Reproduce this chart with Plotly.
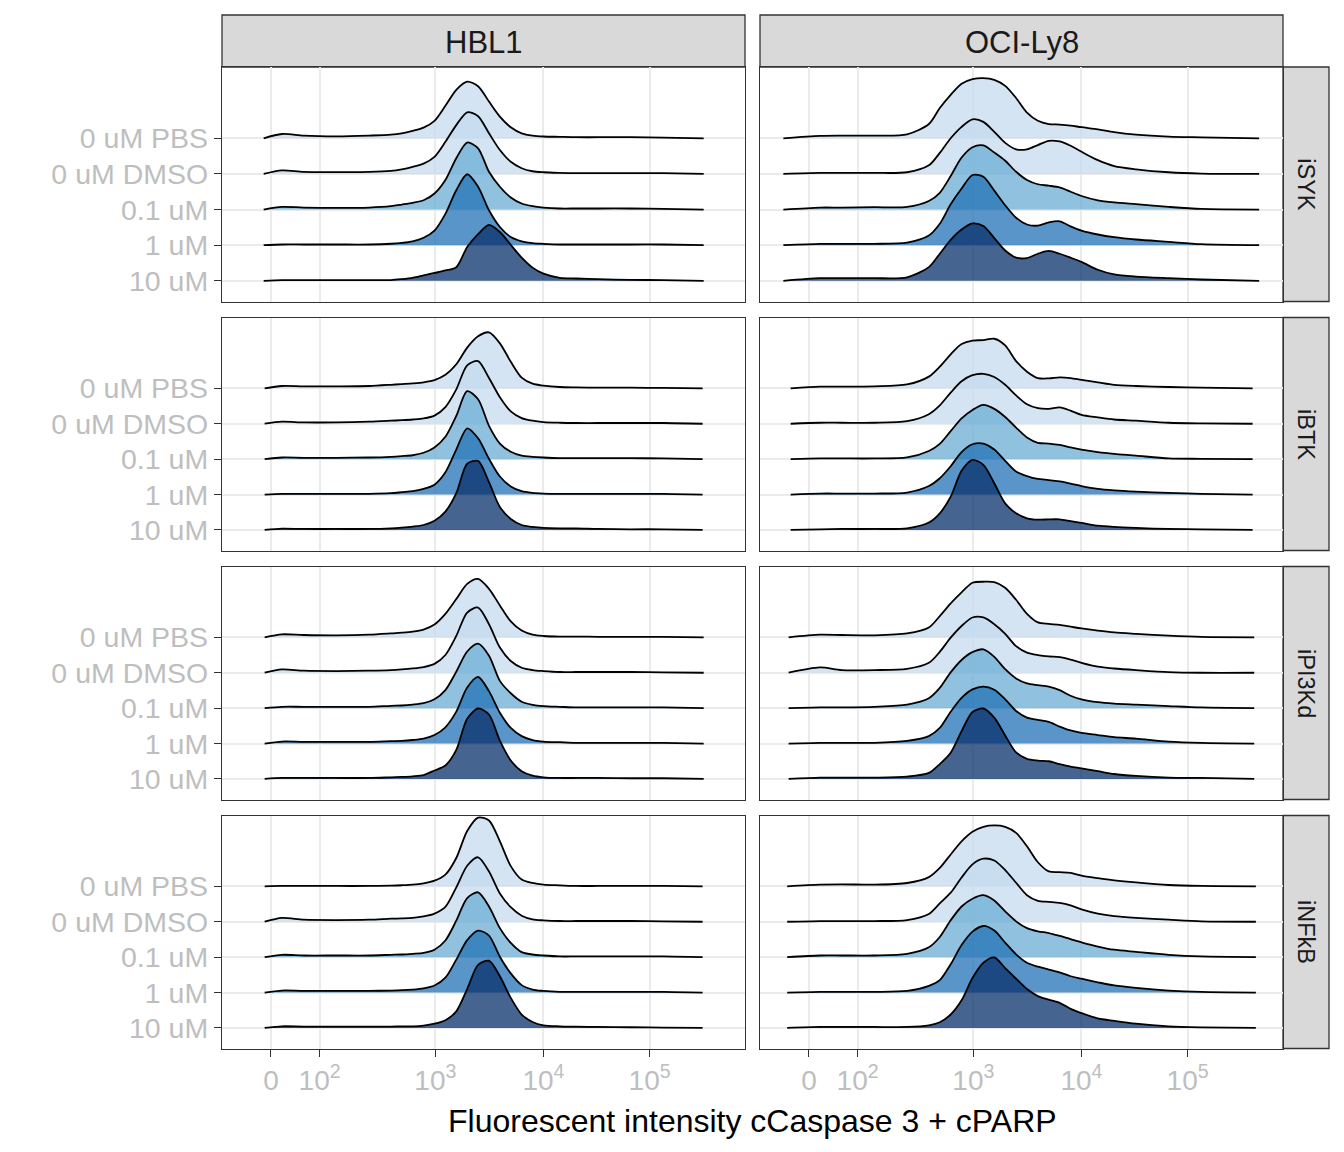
import plotly.graph_objects as go
from plotly.subplots import make_subplots

# the page body adds an 8px margin, so the figure is drawn 16px smaller than the window
PAGE_PAD = 8
W, H = 1344 - 2 * PAGE_PAD, 1152 - 2 * PAGE_PAD

cell_lines = ["HBL1", "OCI-Ly8"]
inhibitors = ["iSYK", "iBTK", "iPI3Kd", "iNFkB"]
doses = ["0 uM PBS", "0 uM DMSO", "0.1 uM", "1 uM", "10 uM"]
dose_fill = ["rgba(198,219,239,0.75)", "rgba(198,219,239,0.75)", "rgba(107,174,214,0.75)",
             "rgba(33,113,181,0.75)", "rgba(8,48,107,0.75)"]

# axis breaks on the biexponential scale
tick_pos = [0, 0.446, 1.508, 2.50, 3.474]
tick_txt = ["0", "10<sup>2</sup>", "10<sup>3</sup>", "10<sup>4</sup>", "10<sup>5</sup>"]

# positions (transformed scale) where the ridge heights were read
x_grid = [0.1, 0.3, 0.6, 0.9, 1.1, 1.2, 1.3, 1.4, 1.5, 1.6, 1.7, 1.8, 1.9, 2.0,
          2.1, 2.2, 2.3, 2.4, 2.5, 2.65, 2.8, 3.0, 3.3, 3.6]

# data range of every panel (density starts / ends here), by inhibitor
hbl1_from = [-0.067, -0.058, -0.058, -0.058]
hbl1_to = [3.97, 3.96, 3.97, 3.96]
ocily8_from = [-0.235, -0.168, -0.187, -0.2]
ocily8_to = [4.13, 4.07, 4.085, 4.10]

# ridge heights, rows: 0 uM PBS, 0 uM DMSO, 0.1 uM, 1 uM, 10 uM
hbl1_isyk = [
    [0.12, 0.075, 0.056, 0.075, 0.10, 0.14, 0.21, 0.30, 0.49, 0.91, 1.36, 1.59, 1.46, 1.03, 0.61, 0.31, 0.14, 0.075, 0.05, 0.04, 0.03, 0.03, 0.03, 0.02],
    [0.10, 0.056, 0.05, 0.056, 0.085, 0.13, 0.20, 0.29, 0.48, 0.90, 1.37, 1.73, 1.62, 1.14, 0.67, 0.34, 0.16, 0.075, 0.047, 0.03, 0.02, 0.02, 0.02, 0.02],
    [0.075, 0.056, 0.047, 0.056, 0.094, 0.14, 0.19, 0.26, 0.45, 0.83, 1.44, 1.88, 1.72, 1.06, 0.64, 0.34, 0.17, 0.094, 0.056, 0.03, 0.03, 0.03, 0.03, 0.02],
    [0.02, 0.02, 0.02, 0.02, 0.04, 0.066, 0.11, 0.21, 0.41, 0.88, 1.54, 1.99, 1.64, 0.98, 0.51, 0.23, 0.11, 0.056, 0.038, 0.02, 0.02, 0.02, 0.02, 0.02],
    [0.02, 0.02, 0.02, 0.02, 0.02, 0.047, 0.085, 0.15, 0.22, 0.29, 0.38, 0.95, 1.31, 1.57, 1.37, 1.01, 0.65, 0.37, 0.2, 0.085, 0.066, 0.047, 0.028, 0.02],
]
ocily8_isyk = [
    [0.066, 0.075, 0.075, 0.11, 0.40, 0.85, 1.22, 1.53, 1.66, 1.69, 1.64, 1.47, 1.13, 0.72, 0.49, 0.40, 0.385, 0.357, 0.31, 0.25, 0.17, 0.10, 0.047, 0.028],
    [0.028, 0.028, 0.028, 0.047, 0.24, 0.59, 1.0, 1.32, 1.53, 1.46, 1.18, 0.87, 0.69, 0.69, 0.81, 0.93, 0.91, 0.79, 0.62, 0.385, 0.22, 0.13, 0.047, 0.01],
    [0.056, 0.056, 0.066, 0.075, 0.24, 0.47, 0.94, 1.46, 1.75, 1.80, 1.60, 1.37, 1.06, 0.83, 0.71, 0.67, 0.62, 0.50, 0.38, 0.26, 0.20, 0.15, 0.075, 0.019],
    [0.038, 0.038, 0.038, 0.075, 0.27, 0.60, 1.15, 1.59, 1.97, 1.92, 1.53, 1.12, 0.77, 0.58, 0.55, 0.64, 0.67, 0.53, 0.41, 0.30, 0.225, 0.16, 0.094, 0.028],
    [0.075, 0.075, 0.075, 0.10, 0.385, 0.76, 1.15, 1.44, 1.61, 1.54, 1.20, 0.85, 0.65, 0.64, 0.76, 0.84, 0.76, 0.65, 0.53, 0.31, 0.18, 0.12, 0.075, 0.038],
]
hbl1_ibtk = [
    [0.066, 0.057, 0.057, 0.066, 0.10, 0.12, 0.14, 0.17, 0.23, 0.38, 0.68, 1.15, 1.47, 1.58, 1.27, 0.75, 0.30, 0.13, 0.075, 0.038, 0.028, 0.019, 0.019, 0.01],
    [0.057, 0.038, 0.038, 0.057, 0.085, 0.10, 0.12, 0.15, 0.23, 0.47, 0.97, 1.65, 1.77, 1.29, 0.75, 0.35, 0.16, 0.085, 0.047, 0.028, 0.02, 0.02, 0.02, 0.02],
    [0.047, 0.038, 0.038, 0.047, 0.066, 0.085, 0.11, 0.18, 0.33, 0.63, 1.22, 1.92, 1.69, 0.94, 0.44, 0.21, 0.10, 0.066, 0.047, 0.03, 0.03, 0.03, 0.03, 0.02],
    [0.02, 0.02, 0.02, 0.02, 0.038, 0.066, 0.094, 0.16, 0.28, 0.63, 1.27, 1.87, 1.59, 1.01, 0.51, 0.23, 0.094, 0.047, 0.028, 0.02, 0.02, 0.02, 0.02, 0.02],
    [0.038, 0.028, 0.028, 0.028, 0.047, 0.066, 0.094, 0.14, 0.26, 0.52, 1.04, 1.87, 1.95, 1.35, 0.65, 0.31, 0.14, 0.085, 0.057, 0.047, 0.047, 0.028, 0.019, 0.019],
]
ocily8_ibtk = [
    [0.047, 0.047, 0.057, 0.11, 0.33, 0.61, 0.96, 1.25, 1.35, 1.36, 1.40, 1.21, 0.77, 0.47, 0.29, 0.28, 0.31, 0.29, 0.24, 0.17, 0.10, 0.066, 0.038, 0.019],
    [0.028, 0.028, 0.028, 0.075, 0.27, 0.52, 0.88, 1.20, 1.37, 1.41, 1.32, 1.10, 0.80, 0.55, 0.44, 0.42, 0.46, 0.37, 0.25, 0.18, 0.12, 0.085, 0.028, 0.01],
    [0.02, 0.02, 0.02, 0.047, 0.23, 0.43, 0.79, 1.15, 1.39, 1.53, 1.42, 1.19, 0.89, 0.61, 0.46, 0.44, 0.40, 0.33, 0.27, 0.20, 0.15, 0.10, 0.02, 0.01],
    [0.028, 0.028, 0.028, 0.057, 0.24, 0.46, 0.80, 1.20, 1.42, 1.44, 1.27, 0.95, 0.65, 0.52, 0.44, 0.41, 0.37, 0.31, 0.24, 0.16, 0.12, 0.085, 0.047, 0.02],
    [0.019, 0.028, 0.028, 0.047, 0.21, 0.47, 0.94, 1.67, 1.98, 1.84, 1.32, 0.75, 0.47, 0.33, 0.29, 0.30, 0.30, 0.25, 0.20, 0.12, 0.085, 0.057, 0.028, 0.019],
]
hbl1_ipi3kd = [
    [0.085, 0.066, 0.057, 0.075, 0.11, 0.13, 0.16, 0.22, 0.36, 0.66, 1.08, 1.51, 1.65, 1.37, 0.90, 0.45, 0.19, 0.075, 0.038, 0.02, 0.02, 0.015, 0.01, 0.01],
    [0.094, 0.057, 0.047, 0.057, 0.075, 0.094, 0.12, 0.16, 0.25, 0.50, 1.04, 1.70, 1.84, 1.37, 0.71, 0.33, 0.14, 0.075, 0.047, 0.02, 0.02, 0.02, 0.02, 0.01],
    [0.038, 0.038, 0.038, 0.038, 0.066, 0.075, 0.10, 0.14, 0.25, 0.51, 1.03, 1.60, 1.82, 1.48, 0.77, 0.42, 0.18, 0.094, 0.057, 0.038, 0.02, 0.02, 0.02, 0.02],
    [0.057, 0.047, 0.047, 0.047, 0.066, 0.075, 0.10, 0.14, 0.24, 0.46, 0.90, 1.58, 1.88, 1.48, 0.87, 0.44, 0.21, 0.10, 0.057, 0.038, 0.02, 0.02, 0.02, 0.02],
    [0.028, 0.028, 0.028, 0.028, 0.047, 0.057, 0.075, 0.11, 0.24, 0.38, 0.82, 1.70, 1.99, 1.82, 1.08, 0.52, 0.22, 0.094, 0.047, 0.028, 0.028, 0.028, 0.02, 0.02],
]
ocily8_ipi3kd = [
    [0.075, 0.066, 0.057, 0.11, 0.28, 0.60, 0.96, 1.27, 1.54, 1.57, 1.56, 1.40, 1.06, 0.66, 0.42, 0.38, 0.35, 0.30, 0.25, 0.19, 0.14, 0.10, 0.047, 0.01],
    [0.15, 0.075, 0.075, 0.11, 0.28, 0.59, 0.99, 1.32, 1.56, 1.56, 1.37, 1.10, 0.75, 0.57, 0.50, 0.46, 0.44, 0.37, 0.28, 0.17, 0.12, 0.075, 0.019, 0.0],
    [0.02, 0.02, 0.038, 0.10, 0.28, 0.57, 1.01, 1.36, 1.58, 1.66, 1.45, 1.10, 0.84, 0.70, 0.65, 0.61, 0.51, 0.35, 0.25, 0.17, 0.13, 0.10, 0.057, 0.019],
    [0.02, 0.02, 0.02, 0.075, 0.21, 0.44, 0.90, 1.29, 1.53, 1.61, 1.52, 1.25, 0.92, 0.73, 0.67, 0.61, 0.48, 0.37, 0.30, 0.24, 0.18, 0.14, 0.057, 0.02],
    [0.038, 0.038, 0.038, 0.066, 0.17, 0.42, 0.74, 1.35, 1.89, 1.99, 1.73, 1.23, 0.75, 0.57, 0.52, 0.50, 0.42, 0.35, 0.30, 0.22, 0.14, 0.085, 0.038, 0.028],
]
hbl1_infkb = [
    [0.01, 0.01, 0.01, 0.01, 0.02, 0.03, 0.047, 0.085, 0.16, 0.33, 0.80, 1.56, 1.94, 1.86, 1.27, 0.57, 0.19, 0.094, 0.047, 0.028, 0.01, 0.01, 0.01, 0.01],
    [0.11, 0.057, 0.047, 0.057, 0.085, 0.094, 0.11, 0.15, 0.23, 0.42, 0.97, 1.58, 1.82, 1.42, 0.80, 0.41, 0.17, 0.066, 0.038, 0.02, 0.02, 0.02, 0.02, 0.01],
    [0.066, 0.047, 0.047, 0.047, 0.066, 0.075, 0.094, 0.12, 0.21, 0.47, 1.03, 1.67, 1.83, 1.43, 0.82, 0.40, 0.14, 0.075, 0.047, 0.02, 0.02, 0.02, 0.02, 0.02],
    [0.057, 0.047, 0.047, 0.047, 0.057, 0.066, 0.085, 0.12, 0.20, 0.42, 0.93, 1.48, 1.75, 1.61, 1.01, 0.54, 0.21, 0.085, 0.047, 0.02, 0.02, 0.02, 0.02, 0.02],
    [0.047, 0.038, 0.038, 0.038, 0.038, 0.047, 0.047, 0.066, 0.12, 0.22, 0.47, 1.10, 1.78, 1.90, 1.46, 0.85, 0.38, 0.17, 0.075, 0.047, 0.038, 0.028, 0.02, 0.01],
]
ocily8_infkb = [
    [0.047, 0.057, 0.047, 0.094, 0.26, 0.52, 0.90, 1.27, 1.54, 1.68, 1.72, 1.68, 1.51, 1.13, 0.68, 0.42, 0.40, 0.38, 0.30, 0.23, 0.17, 0.11, 0.038, 0.01],
    [0.019, 0.019, 0.019, 0.047, 0.22, 0.52, 0.82, 1.25, 1.62, 1.78, 1.73, 1.46, 1.10, 0.75, 0.59, 0.56, 0.53, 0.46, 0.35, 0.23, 0.16, 0.11, 0.057, 0.01],
    [0.047, 0.047, 0.047, 0.094, 0.28, 0.57, 1.04, 1.43, 1.65, 1.75, 1.60, 1.29, 1.01, 0.82, 0.73, 0.68, 0.60, 0.51, 0.42, 0.30, 0.21, 0.15, 0.066, 0.019],
    [0.02, 0.02, 0.02, 0.047, 0.19, 0.35, 0.80, 1.34, 1.72, 1.88, 1.75, 1.41, 1.08, 0.84, 0.73, 0.65, 0.57, 0.46, 0.39, 0.29, 0.20, 0.13, 0.057, 0.019],
    [0.028, 0.028, 0.028, 0.028, 0.075, 0.16, 0.38, 0.78, 1.41, 1.84, 1.99, 1.69, 1.39, 1.10, 0.90, 0.80, 0.71, 0.54, 0.42, 0.27, 0.20, 0.12, 0.047, 0.019],
]

heights = {
    "HBL1": [hbl1_isyk, hbl1_ibtk, hbl1_ipi3kd, hbl1_infkb],
    "OCI-Ly8": [ocily8_isyk, ocily8_ibtk, ocily8_ipi3kd, ocily8_infkb],
}
x_from = {"HBL1": hbl1_from, "OCI-Ly8": ocily8_from}
x_to = {"HBL1": hbl1_to, "OCI-Ly8": ocily8_to}

# panel geometry (window pixels)
col_px = [(222, 745), (760, 1283)]
row_px = [(67, 301.5), (317.5, 550.5), (566.5, 799.5), (815.5, 1048.5)]
FONT = "Liberation Sans, Arial, sans-serif"
GRID = "#EBEBEB"
BORDER = "#333333"


def px(xp):
    return (xp - PAGE_PAD) / W


def py(yp):
    return 1 - (yp - PAGE_PAD) / H


fig = make_subplots(rows=4, cols=2)

for r, inh in enumerate(inhibitors):
    for c, cl in enumerate(cell_lines):
        xs = [x_from[cl][r]] + x_grid + [x_to[cl][r]]
        for k, dose in enumerate(doses):
            base = len(doses) - k
            ys = [base] + [base + h for h in heights[cl][r][k]] + [base]
            fig.add_trace(go.Scatter(
                x=xs, y=ys, mode="lines", fill="toself", fillcolor=dose_fill[k],
                line=dict(color="black", width=1.8, shape="spline", smoothing=0.8),
                name=dose, showlegend=False, hoverinfo="skip"), row=r + 1, col=c + 1)

for r in range(4):
    for c in range(2):
        bottom = r == 3
        fig.update_xaxes(
            domain=[px(col_px[c][0]), px(col_px[c][1])],
            range=[-0.4495, 4.349], tickvals=tick_pos, ticktext=tick_txt,
            showticklabels=bottom, ticks="outside" if bottom else "", ticklen=7,
            tickcolor=BORDER, tickwidth=1.3,
            tickfont=dict(family=FONT, size=28, color="#BEBEBE"),
            showgrid=True, gridcolor=GRID, gridwidth=1.6, zeroline=False,
            showline=True, mirror=True, linecolor=BORDER, linewidth=1.3,
            row=r + 1, col=c + 1)
        fig.update_yaxes(
            domain=[py(row_px[r][1]), py(row_px[r][0])],
            range=[0.42, 7.0], tickvals=[1, 2, 3, 4, 5], ticktext=doses[::-1],
            showticklabels=c == 0, ticks="outside" if c == 0 else "", ticklen=7,
            tickcolor=BORDER, tickwidth=1.3,
            tickfont=dict(family=FONT, size=28.5, color="#BEBEBE"),
            showgrid=True, gridcolor=GRID, gridwidth=1.6, zeroline=False,
            showline=True, mirror=True, linecolor=BORDER, linewidth=1.3,
            row=r + 1, col=c + 1)

shapes = []
annotations = []
for c, cl in enumerate(cell_lines):
    shapes.append(dict(type="rect", xref="paper", yref="paper",
                       x0=px(col_px[c][0]), x1=px(col_px[c][1]), y0=py(67), y1=py(15),
                       fillcolor="#D9D9D9", line=dict(color=BORDER, width=1.3), layer="below"))
    annotations.append(dict(x=px(sum(col_px[c]) / 2), y=py(42), xref="paper", yref="paper",
                            text=cl, showarrow=False, xanchor="center", yanchor="middle",
                            font=dict(family=FONT, size=31, color="#1A1A1A")))
for r, inh in enumerate(inhibitors):
    shapes.append(dict(type="rect", xref="paper", yref="paper",
                       x0=px(1283), x1=px(1329), y0=py(row_px[r][1]), y1=py(row_px[r][0]),
                       fillcolor="#D9D9D9", line=dict(color=BORDER, width=1.3), layer="below"))
    annotations.append(dict(x=px(1306), y=py(sum(row_px[r]) / 2), xref="paper", yref="paper",
                            text=inh, showarrow=False, textangle=90,
                            xanchor="center", yanchor="middle",
                            font=dict(family=FONT, size=23.5, color="#1A1A1A")))

annotations.append(dict(x=px((222 + 1283) / 2), y=py(1121), xref="paper", yref="paper",
                        text="Fluorescent intensity cCaspase 3 + cPARP", showarrow=False,
                        xanchor="center", yanchor="middle",
                        font=dict(family=FONT, size=32, color="black")))

fig.update_layout(
    width=W, height=H, margin=dict(l=0, r=0, t=0, b=0),
    paper_bgcolor="white", plot_bgcolor="white",
    shapes=shapes, annotations=annotations, showlegend=False,
    font=dict(family=FONT),
)

fig.write_html("out.html")
